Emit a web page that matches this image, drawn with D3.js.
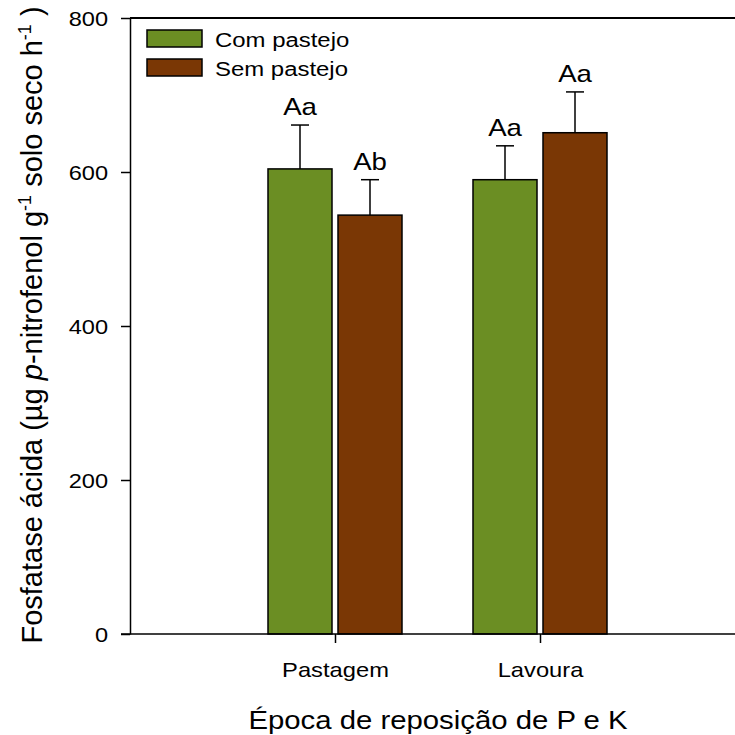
<!DOCTYPE html>
<html>
<head>
<meta charset="utf-8">
<script src="https://cdn.jsdelivr.net/npm/d3@7"></script>
<style>
  body { margin: 0; background: #fff; }
  text { font-family: "Liberation Sans", Arial, sans-serif; fill: #000; }
</style>
</head>
<body>
<div id="chart"></div>
<script>
// data
const categories = ["Pastagem", "Lavoura"];
const seriesNames = ["Com pastejo", "Sem pastejo"];
const comPastejo = [604, 590];
const semPastejo = [544, 651];
const comErr = [57, 44];
const semErr = [46, 53];
const comLetters = ["Aa", "Aa"];
const semLetters = ["Ab", "Aa"];
const yTicks = [0, 200, 400, 600, 800];
const colors = ["#6B8E23", "#7A3705"];

const width = 735, height = 735;
const stretch = 1.15; // text in the figure is a bit wider than tall

const svg = d3.select("#chart").append("svg")
    .attr("width", width)
    .attr("height", height);

// scales
const x = d3.scaleLinear().domain([0, 3]).range([130, 130 + 3 * 205]);
const y = d3.scaleLinear().domain([0, 800]).range([634, 18]);

const barW = 64, gap = 3;

// bars
const series = [
    { name: seriesNames[0], values: comPastejo, err: comErr, letters: comLetters, color: colors[0], off: -gap - barW },
    { name: seriesNames[1], values: semPastejo, err: semErr, letters: semLetters, color: colors[1], off: gap }
];

series.forEach(s => {
    const g = svg.append("g");
    categories.forEach((c, i) => {
        const cx = x(i + 1) + s.off;
        const mid = cx + barW / 2;
        // error bar first (upper only)
        g.append("line")
            .attr("x1", mid).attr("x2", mid)
            .attr("y1", y(s.values[i])).attr("y2", y(s.values[i] + s.err[i]))
            .attr("stroke", "#000").attr("stroke-width", 1.5);
        g.append("line")
            .attr("x1", mid - 9).attr("x2", mid + 9)
            .attr("y1", y(s.values[i] + s.err[i])).attr("y2", y(s.values[i] + s.err[i]))
            .attr("stroke", "#000").attr("stroke-width", 1.5);
        g.append("rect")
            .attr("x", cx)
            .attr("y", y(s.values[i]))
            .attr("width", barW)
            .attr("height", y(0) - y(s.values[i]))
            .attr("fill", s.color)
            .attr("stroke", "#000")
            .attr("stroke-width", 1.5);
        // significance letters
        g.append("g")
            .attr("transform", `translate(${mid},${y(s.values[i] + s.err[i]) - 10}) scale(${stretch},1)`)
            .append("text")
            .attr("text-anchor", "middle")
            .attr("font-size", 24)
            .text(s.letters[i]);
    });
});

// axes
const yAxis = svg.append("g")
    .attr("transform", "translate(130,0)")
    .call(d3.axisLeft(y).tickValues(yTicks).tickSize(9).tickSizeOuter(0).tickPadding(0));
yAxis.selectAll("line, path").attr("stroke", "#000").attr("stroke-width", 1.5);
yAxis.selectAll("text")
    .attr("font-size", 20.5)
    .attr("x", -22 / stretch)
    .attr("transform", `scale(${stretch},1)`)
    .attr("dy", "0.36em")
    .style("font-family", "'Liberation Sans', Arial, sans-serif");

const xAxis = svg.append("g")
    .attr("transform", `translate(0,${y(0)})`)
    .call(d3.axisBottom(x).tickValues([1, 2]).tickSize(9).tickSizeOuter(0)
        .tickFormat(d => categories[d - 1]));
xAxis.select(".domain").remove();
xAxis.selectAll("line").attr("stroke", "#000").attr("stroke-width", 1.5);
xAxis.selectAll("text").remove();
xAxis.selectAll(".tick").each(function(d) {
    d3.select(this).append("g")
        .attr("transform", `translate(0,43) scale(${stretch - 0.02},1)`)
        .append("text")
        .attr("text-anchor", "middle")
        .attr("font-size", 21)
        .text(categories[d - 1]);
});

// bottom line and top frame line
svg.append("line")
    .attr("x1", 121).attr("x2", width)
    .attr("y1", y(0)).attr("y2", y(0))
    .attr("stroke", "#000").attr("stroke-width", 1.5);
svg.append("line")
    .attr("x1", 130).attr("x2", width)
    .attr("y1", y(800)).attr("y2", y(800))
    .attr("stroke", "#000").attr("stroke-width", 2);

// axis titles
svg.append("g")
    .attr("transform", `translate(438,729) scale(${stretch},1)`)
    .append("text")
    .attr("text-anchor", "middle")
    .attr("font-size", 25.5)
    .text("Época de reposição de P e K");

const yTitle = svg.append("text")
    .attr("transform", "translate(42,325) rotate(-90)")
    .attr("text-anchor", "middle")
    .attr("font-size", 29);
yTitle.append("tspan").text("Fosfatase ácida (µg ");
yTitle.append("tspan").attr("font-style", "italic").text("p");
yTitle.append("tspan").text("-nitrofenol g");
yTitle.append("tspan").attr("font-size", 18).attr("dy", -11).text("-1");
yTitle.append("tspan").attr("dy", 11).text("  solo seco h");
yTitle.append("tspan").attr("font-size", 18).attr("dy", -11).text("-1");
yTitle.append("tspan").attr("dy", 11).text(" )");

// legend
const legend = svg.append("g").attr("transform", "translate(147,30)");
seriesNames.forEach((n, i) => {
    legend.append("rect")
        .attr("x", 0).attr("y", i * 29)
        .attr("width", 55).attr("height", 17)
        .attr("fill", colors[i])
        .attr("stroke", "#000").attr("stroke-width", 1.5);
    legend.append("g")
        .attr("transform", `translate(68,${i * 29 + 17}) scale(${stretch - 0.01},1)`)
        .append("text")
        .attr("font-size", 21)
        .text(n);
});
</script>
</body>
</html>
